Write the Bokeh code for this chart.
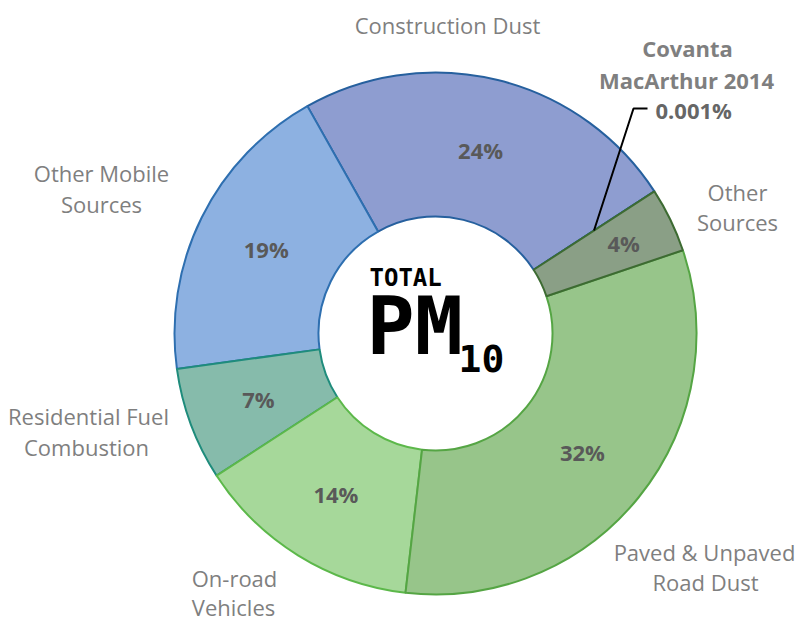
import math
from bokeh.plotting import figure
from bokeh.models import Range1d
from bokeh.core.properties import value
from bokeh.embed import file_html
from bokeh.resources import INLINE

# ---------------- data ----------------
categories = ["Other Sources", "Paved & Unpaved Road Dust", "On-road Vehicles",
              "Residential Fuel Combustion", "Other Mobile Sources",
              "Construction Dust", "Covanta MacArthur 2014"]
shares = [4, 32, 14, 7, 19, 24, 0.001]
pct_labels = ["4%", "32%", "14%", "7%", "19%", "24%", "0.001%"]

# ---------------- style ----------------
fill_colors = ["#8a9f86", "#97c58a", "#a6d89a", "#86bbab", "#8db1e1", "#8e9dd0", "#8e9dd0"]
line_colors = ["#3d6b32", "#55a544", "#5cb84a", "#1f8c7c", "#2e6fb0", "#26609e", "#26609e"]

W, H = 804, 620
CX, CY = 435, 333          # pixel coords of the donut centre
R_OUT, R_IN = 261, 117
START = 33.0               # degrees, first slice starts here, goes clockwise
LABEL_FONT = value("Open Sans")
TITLE_FONT = value("DejaVu Sans Mono")

p = figure(width=W, height=H, output_backend="svg", toolbar_location=None,
           x_range=Range1d(0, W), y_range=Range1d(-H, 0),
           min_border=0, outline_line_color=None)
p.axis.visible = False
p.grid.visible = False
p.background_fill_color = "white"
p.border_fill_color = "white"

total = sum(shares)
starts, ends, mids = [], [], []
a = START
for v in shares:
    span = v / total * 360.0
    starts.append(a)
    ends.append(a - span)
    mids.append(a - span / 2)
    a -= span

draw_order = [5, 6, 4, 3, 2, 1, 0]
for i in draw_order:
    p.annular_wedge(x=CX, y=-CY, inner_radius=R_IN, outer_radius=R_OUT,
                    inner_radius_units="screen", outer_radius_units="screen",
                    start_angle=starts[i], end_angle=ends[i],
                    start_angle_units="deg", end_angle_units="deg",
                    direction="clock", fill_color=fill_colors[i],
                    line_color=line_colors[i], line_width=2)

# percentage labels at mid radius
r_mid = (R_IN + R_OUT) / 2
label_r = [r_mid + 20, r_mid, r_mid, r_mid, r_mid, r_mid]
lx, ly, lt = [], [], []
for i in range(6):
    ang = math.radians(mids[i])
    lx.append(CX + label_r[i] * math.cos(ang))
    ly.append(-(CY - label_r[i] * math.sin(ang)))
    lt.append(pct_labels[i])
p.text(x=lx, y=ly, text=lt, text_font=LABEL_FONT, text_font_style="bold",
       text_font_size="22px", text_color="#595959", text_align="center",
       text_baseline="middle")

# category labels (outside); y = vertical middle of each line
cat_lines = [
    ("Construction Dust", 447, 24),
    ("Other", 737, 191), ("Sources", 737, 221),
    ("Paved & Unpaved", 704, 551), ("Road Dust", 705, 581),
    ("On-road", 234, 577), ("Vehicles", 233, 606),
    ("Residential Fuel", 88, 415), ("Combustion", 86, 446),
    ("Other Mobile", 101, 172), ("Sources", 101, 203),
]
p.text(x=[c[1] for c in cat_lines], y=[-c[2] for c in cat_lines],
       text=[c[0] for c in cat_lines], text_font=LABEL_FONT,
       text_font_size="22px", text_color="#7f7f7f", text_align="center",
       text_baseline="middle")

# Covanta label
p.text(x=[687, 686], y=[-47, -79], text=["Covanta", "MacArthur 2014"],
       text_font=LABEL_FONT, text_font_style="bold", text_font_size="22px",
       text_color="#7f7f7f", text_align="center", text_baseline="middle")
p.text(x=[655], y=[-109], text=[pct_labels[6]], text_font=LABEL_FONT,
       text_font_style="bold", text_font_size="22px", text_color="#666666",
       text_align="left", text_baseline="middle")

# leader line from the tiny Covanta slice
ca = math.radians(mids[6])
x0 = CX + r_mid * math.cos(ca)
y0 = CY - r_mid * math.sin(ca)
p.line(x=[x0, 633, 647], y=[-y0, -108, -108], line_color="black", line_width=2)

# centre title
p.text(x=[369], y=[-277], text=["TOTAL"], text_font=TITLE_FONT,
       text_font_style="bold", text_font_size="24px", text_color="black",
       text_align="left", text_baseline="middle")
p.text(x=[366], y=[-326], text=["PM"], text_font=TITLE_FONT,
       text_font_style="bold", text_font_size="80px", text_color="black",
       text_align="left", text_baseline="middle")
p.text(x=[458], y=[-358], text=["10"], text_font=TITLE_FONT,
       text_font_style="bold", text_font_size="38px", text_color="black",
       text_align="left", text_baseline="middle")

open("out.html", "w").write(file_html(p, INLINE))
